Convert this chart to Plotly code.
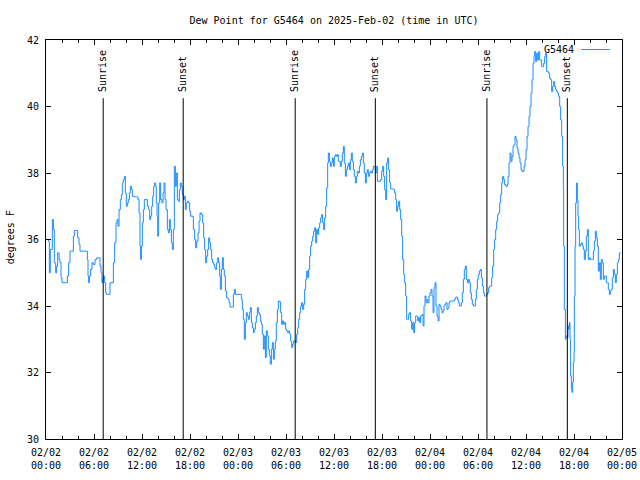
import pandas as pd
import plotly.graph_objects as go

# ---------------- data ----------------
START = "2025-02-02 00:00"
END = "2025-02-05 00:00"
STATION = "G5464"

# hours after START, dew point (degrees F)
HOURS_DAY1 = [0.05, 0.29, 0.42, 0.54, 0.67, 0.79, 0.92, 1.04, 1.21, 1.33,
              1.46, 1.63, 1.75, 1.88, 2.0, 2.25, 2.5, 2.67, 2.83, 3.0,
              3.21, 3.42, 3.54, 3.83, 3.96, 4.13, 4.25, 4.67, 5.0, 5.17,
              5.25, 5.33, 5.42, 5.58, 5.75, 5.92, 6.13, 6.33, 6.58, 6.75,
              6.88, 7.0, 7.08, 7.21, 7.33, 7.46, 7.58, 7.79, 8.0, 8.25,
              8.42, 8.58, 8.75, 8.88, 9.0, 9.13, 9.29, 9.42, 9.54, 9.67,
              9.79, 9.92, 10.04, 10.17, 10.29, 10.42, 10.54, 10.67, 10.79, 11.08,
              11.33, 11.5, 11.63, 11.75, 11.83, 11.92, 12.04, 12.17, 12.29, 12.5,
              12.67, 12.83, 12.96, 13.08, 13.21, 13.33, 13.46, 13.58, 13.71, 13.79,
              13.88, 13.96, 14.08, 14.21, 14.33, 14.5, 14.63, 14.75, 14.88, 15.0,
              15.17, 15.29, 15.42, 15.54, 15.67, 15.79, 15.92, 16.04, 16.17, 16.29,
              16.42, 16.54, 16.67, 16.79, 16.92, 17.04, 17.17, 17.29, 17.42, 17.54,
              17.67, 17.83, 17.96, 18.08, 18.25, 18.42, 18.58, 18.71, 18.83, 19.0,
              19.13, 19.25, 19.42, 19.58, 19.71, 19.83, 19.96, 20.08, 20.21, 20.33,
              20.46, 20.58, 20.71, 20.83, 20.96, 21.08, 21.21, 21.33, 21.46, 21.58,
              21.71, 21.79, 21.92, 22.04, 22.17, 22.29, 22.42, 22.58, 22.75, 22.88,
              23.0, 23.29]
DEW_DAY1 = [36.0, 35.95, 35.0, 35.7, 35.7, 36.6, 36.3, 35.3, 35.0, 35.2,
            35.6, 35.4, 35.3, 34.85, 34.7, 34.7, 34.7, 34.9, 35.3, 35.65,
            35.65, 36.1, 36.27, 36.27, 36.05, 35.85, 35.65, 35.65, 35.65, 35.4,
            34.9, 34.7, 34.9, 35.1, 35.3, 35.25, 35.4, 35.45, 35.45, 35.2,
            35.0, 34.7, 34.8, 34.9, 34.7, 34.4, 34.35, 34.35, 34.7, 34.7,
            35.3, 35.9, 36.5, 36.6, 36.4, 36.9, 37.2, 37.35, 37.7, 37.8,
            37.9, 37.4, 37.0, 37.1, 37.2, 37.4, 37.6, 37.5, 37.3, 37.28,
            37.28, 37.2, 36.8, 35.8, 35.4, 35.8, 36.5, 36.9, 37.2, 37.2,
            37.0, 36.9, 36.6, 36.7, 37.0, 37.3, 37.6, 37.7, 37.6, 37.1,
            36.7, 36.1, 37.1, 37.7, 37.2, 37.1, 37.4, 37.7, 37.2, 36.9,
            36.3, 36.2, 36.6, 36.3, 35.9, 35.7, 36.3, 38.2, 37.6, 38.0,
            37.2, 37.15, 37.5, 37.7, 37.6, 37.35, 37.2, 37.3, 36.9, 37.1,
            37.15, 37.1, 36.85, 36.7, 36.7, 36.3, 36.0, 35.75, 35.95, 36.2,
            36.55, 36.8, 36.75, 36.5, 36.05, 35.7, 35.3, 35.5, 35.7, 36.05,
            35.9, 35.7, 35.4, 35.3, 35.25, 35.15, 35.1, 35.3, 35.45, 35.3,
            34.9, 34.5, 35.1, 35.45, 35.1, 34.9, 34.45, 34.25, 34.2, 34.1,
            33.97, 33.97]

HOURS_DAY2 = [23.42, 23.54, 23.67, 23.96, 24.25, 24.42, 24.54, 24.67, 24.79, 24.92,
              25.04, 25.17, 25.29, 25.42, 25.54, 25.67, 25.79, 25.92, 26.04, 26.17,
              26.29, 26.42, 26.54, 26.67, 26.79, 26.92, 27.04, 27.17, 27.29, 27.42,
              27.54, 27.67, 27.79, 27.92, 28.04, 28.17, 28.29, 28.42, 28.54, 28.67,
              28.79, 28.92, 29.04, 29.21, 29.33, 29.46, 29.58, 29.71, 29.83, 29.96,
              30.08, 30.21, 30.33, 30.46, 30.58, 30.71, 30.83, 30.96, 31.08, 31.21,
              31.33, 31.46, 31.58, 31.71, 31.83, 31.96, 32.08, 32.21, 32.33, 32.46,
              32.58, 32.71, 32.83, 32.96, 33.08, 33.21, 33.33, 33.46, 33.58, 33.71,
              33.83, 33.96, 34.08, 34.21, 34.33, 34.46, 34.58, 34.71, 34.83, 34.96,
              35.08, 35.21, 35.29, 35.42, 35.54, 35.67, 35.79, 35.92, 36.04, 36.17,
              36.29, 36.42, 36.54, 36.67, 36.79, 36.92, 37.04, 37.17, 37.29, 37.42,
              37.54, 37.67, 37.79, 37.92, 38.04, 38.17, 38.29, 38.42, 38.54, 38.67,
              38.79, 38.92, 39.04, 39.17, 39.29, 39.42, 39.54, 39.67, 39.79, 39.92,
              40.04, 40.17, 40.29, 40.42, 40.54, 40.67, 40.79, 40.92, 41.04, 41.17,
              41.29, 41.42, 41.63, 41.83, 41.96, 42.08, 42.21, 42.33, 42.46, 42.58,
              42.71, 42.83, 42.96, 43.08, 43.33, 43.46, 43.58, 43.71, 43.83, 43.96,
              44.08, 44.21, 44.33, 44.46, 44.58, 44.71, 44.83, 44.96, 45.08, 45.21,
              45.33, 45.46, 45.58, 45.71, 45.83, 45.96, 46.08, 46.21, 46.33, 46.46,
              46.58, 46.71, 46.83]
DEW_DAY2 = [34.35, 34.5, 34.35, 34.35, 34.35, 34.2, 33.9, 33.6, 33.0, 33.5,
            33.8, 33.7, 33.6, 33.8, 33.95, 33.5, 33.35, 33.2, 33.3, 33.5,
            33.7, 33.95, 33.8, 33.75, 33.55, 33.45, 33.15, 32.7, 33.1, 32.45,
            33.25, 33.1, 32.7, 32.5, 32.25, 32.7, 32.9, 32.4, 32.7, 32.95,
            33.5, 33.9, 34.15, 34.12, 33.8, 33.45, 33.55, 33.45, 33.5, 33.3,
            33.25, 33.2, 33.25, 33.15, 32.95, 32.75, 32.85, 32.95, 32.95, 32.9,
            33.15, 33.35, 33.6, 33.8, 34.0, 34.1, 33.9, 34.05, 34.5, 34.8,
            35.05, 34.85, 35.1, 35.5, 35.8, 35.95, 36.1, 36.25, 36.35, 35.9,
            36.3, 36.15, 36.35, 36.5, 36.65, 36.75, 36.5, 36.3, 36.65, 37.0,
            37.55, 38.3, 38.6, 38.35, 38.2, 38.3, 38.45, 38.2, 38.5, 38.55,
            38.5, 38.55, 38.35, 38.35, 38.2, 38.35, 38.6, 38.8, 38.3, 37.9,
            38.1, 38.2, 38.3, 38.1, 38.4, 38.6, 38.35, 38.1, 37.9, 37.7,
            37.9, 38.05, 38.0, 38.2, 38.4, 38.5, 38.6, 38.3, 38.0, 37.7,
            38.0, 38.1, 37.9, 38.0, 38.05, 38.0, 38.1, 38.2, 38.2, 38.0,
            38.2, 37.75, 37.75, 37.8, 38.05, 38.2, 37.9, 37.5, 37.2, 38.3,
            38.45, 38.1, 37.7, 37.52, 37.52, 37.5, 37.4, 37.2, 36.85, 37.0,
            37.15, 36.9, 36.6, 36.1, 35.4, 34.95, 34.7, 34.3, 33.6, 33.6,
            33.75, 33.8, 33.55, 33.3, 33.5, 33.2, 33.5, 33.7, 33.7, 33.55,
            33.65, 33.5, 33.7]

HOURS_DAY3 = [47.0, 47.13, 47.25, 47.38, 47.5, 47.63, 47.75, 47.88, 48.0, 48.13,
              48.25, 48.38, 48.5, 48.63, 48.75, 48.88, 49.0, 49.13, 49.25, 49.38,
              49.5, 49.63, 49.75, 49.88, 50.0, 50.13, 50.25, 50.38, 50.5, 50.71,
              50.92, 51.04, 51.17, 51.29, 51.42, 51.54, 51.67, 51.79, 51.92, 52.04,
              52.17, 52.29, 52.42, 52.54, 52.67, 52.79, 52.92, 53.04, 53.17, 53.29,
              53.42, 53.54, 53.67, 53.79, 53.92, 54.04, 54.17, 54.29, 54.42, 54.54,
              54.67, 54.79, 54.92, 55.08, 55.21, 55.33, 55.46, 55.58, 55.71, 55.83,
              55.96, 56.08, 56.21, 56.33, 56.46, 56.58, 56.71, 56.83, 56.96, 57.08,
              57.21, 57.33, 57.5, 57.67, 57.75, 57.88, 58.0, 58.13, 58.25, 58.38,
              58.5, 58.63, 58.75, 58.88, 59.0, 59.13, 59.25, 59.38, 59.5, 59.63,
              59.75, 59.88, 60.0, 60.13, 60.25, 60.38, 60.5, 60.63, 60.75, 60.88,
              61.0, 61.08, 61.21, 61.33, 61.46, 61.58, 61.71, 61.83, 61.96, 62.08,
              62.21, 62.33, 62.46, 62.58, 62.71, 62.83, 62.96, 63.08, 63.21, 63.33,
              63.46, 63.58, 63.71, 63.83, 63.96, 64.08, 64.21, 64.33, 64.46, 64.58,
              64.67, 64.71, 64.79, 64.92, 65.0, 65.13, 65.25, 65.33, 65.42, 65.5,
              65.58, 65.67, 65.75, 65.83, 65.92, 66.0, 66.04, 66.13, 66.21, 66.33,
              66.42, 66.5, 66.58, 66.67, 66.79, 66.92, 67.04, 67.17, 67.29, 67.42,
              67.54, 67.67, 67.79, 67.92, 68.04, 68.17, 68.29, 68.42, 68.54, 68.67,
              68.79, 68.92, 69.04, 69.17, 69.29, 69.42, 69.54, 69.67, 69.79, 69.92,
              70.04, 70.17, 70.29, 70.42, 70.54, 70.67, 70.79, 70.92, 71.04, 71.17,
              71.29, 71.42, 71.54, 71.67, 71.83]
DEW_DAY3 = [33.75, 33.4, 34.0, 34.3, 34.1, 34.2, 34.1, 34.3, 34.4, 34.5,
            34.3, 33.8, 34.55, 34.7, 34.0, 33.7, 33.55, 34.05, 34.0, 33.9,
            33.8, 33.85, 34.0, 34.05, 34.1, 33.9, 33.95, 34.1, 34.15, 34.15,
            34.15, 34.2, 34.25, 34.27, 34.2, 34.1, 34.0, 34.0, 34.1, 34.4,
            34.8, 35.1, 35.2, 34.8, 34.7, 34.8, 34.7, 34.4, 34.2, 34.05,
            34.0, 34.0, 34.2, 34.5, 34.8, 34.95, 35.05, 35.1, 34.85, 34.6,
            34.4, 34.3, 34.3, 34.35, 34.4, 34.55, 34.6, 34.6, 34.85, 35.2,
            35.7, 36.0, 36.3, 36.55, 36.75, 36.8, 37.1, 37.35, 37.7, 37.9,
            37.8, 37.65, 37.6, 37.65, 37.9, 38.3, 38.6, 38.35, 38.5, 38.8,
            38.85, 39.1, 39.0, 38.75, 38.6, 38.45, 38.3, 38.1, 38.05, 38.05,
            38.2, 38.4, 38.7, 39.1, 39.4, 39.7, 40.0, 40.4, 40.8, 41.3,
            41.5, 41.65, 41.35, 41.6, 41.4, 41.65, 41.4, 41.4, 41.2, 41.2,
            41.3, 41.5, 41.6, 41.05, 41.05, 41.0, 40.85, 40.8, 40.45, 40.6,
            40.75, 40.6, 40.5, 40.45, 40.4, 40.3, 40.0, 39.6, 39.1, 38.2,
            37.5, 35.8, 33.9, 33.0, 33.1, 33.05, 33.4, 33.3, 33.5, 33.0,
            31.9, 31.5, 31.4, 31.7, 32.3, 32.6, 34.3, 35.8, 37.1, 37.7,
            37.2, 36.7, 36.3, 35.8, 35.85, 35.9, 35.8, 35.7, 35.4, 35.65,
            36.1, 36.3, 35.4, 35.45, 35.4, 35.4, 35.4, 35.65, 35.95, 36.25,
            36.05, 35.8, 35.05, 35.3, 34.8, 35.4, 35.3, 34.8, 34.9, 34.9,
            34.7, 34.7, 34.5, 34.35, 34.45, 34.5, 34.85, 35.1, 34.95, 34.7,
            34.95, 35.3, 35.4, 35.6, 35.6]

SUNRISE = ["2025-02-02 07:09", "2025-02-03 07:09", "2025-02-04 07:07"]
SUNSET = ["2025-02-02 17:09", "2025-02-03 17:10", "2025-02-04 17:10"]

TICK_HOURS = [0, 6, 12, 18, 24, 30, 36, 42, 48, 54, 60, 66, 72]
TICK_LABELS = ["02/02<br>00:00", "02/02<br>06:00", "02/02<br>12:00", "02/02<br>18:00",
               "02/03<br>00:00", "02/03<br>06:00", "02/03<br>12:00", "02/03<br>18:00",
               "02/04<br>00:00", "02/04<br>06:00", "02/04<br>12:00", "02/04<br>18:00",
               "02/05<br>00:00"]
Y_TICKS = [30, 32, 34, 36, 38, 40, 42]

# ---------------- build ----------------
hours = HOURS_DAY1 + HOURS_DAY2 + HOURS_DAY3
dew = DEW_DAY1 + DEW_DAY2 + DEW_DAY3
assert len(hours) == len(dew)

base = pd.Timestamp(START)
times = base + pd.to_timedelta(hours, unit="h")
tick_times = base + pd.to_timedelta(TICK_HOURS, unit="h")

FONT = "DejaVu Sans Mono"
LINE_COLOR = "#1a8cff"

fig = go.Figure()
fig.add_trace(go.Scatter(x=times, y=dew, mode="lines", name=STATION,
                         line=dict(color=LINE_COLOR, width=1, shape="hv"),
                         showlegend=False, hoverinfo="x+y"))

LINE_TOP = 40.25
LABEL_BOTTOM = 40.38
for label, events in (("Sunrise", SUNRISE), ("Sunset", SUNSET)):
    for t in events:
        fig.add_shape(type="line", xref="x", yref="y", x0=t, x1=t, y0=30, y1=LINE_TOP,
                      line=dict(color="black", width=1))
        fig.add_annotation(x=t, y=LABEL_BOTTOM, xref="x", yref="y", text=label,
                           textangle=-90, showarrow=False, xanchor="center",
                           yanchor="bottom", font=dict(family=FONT, size=10, color="black"))

# legend (text left, sample right, like gnuplot)
fig.add_annotation(x=0.920, y=0.976, xref="paper", yref="paper", text=STATION,
                   showarrow=False, xanchor="right", yanchor="middle",
                   font=dict(family=FONT, size=10, color="black"))
fig.add_shape(type="line", xref="paper", yref="paper", x0=0.929, x1=0.979,
              y0=0.976, y1=0.976, line=dict(color=LINE_COLOR, width=1))

# y-axis label
fig.add_annotation(x=-0.061, y=0.505, xref="paper", yref="paper", text="degrees F",
                   textangle=-90, showarrow=False, xanchor="center", yanchor="middle",
                   font=dict(family=FONT, size=10, color="black"))

fig.update_layout(
    width=640, height=480,
    margin=dict(l=46, r=18, t=40, b=41, autoexpand=False),
    paper_bgcolor="white", plot_bgcolor="white",
    font=dict(family=FONT, size=10, color="black"),
    title=dict(text=f"Dew Point for {STATION} on 2025-Feb-02 (time in UTC)",
               x=0.5, xref="paper", y=1 - 20 / 480, yref="container",
               xanchor="center", yanchor="middle",
               font=dict(family=FONT, size=10, color="black")),
    showlegend=False,
)
fig.update_xaxes(range=[START, END], showgrid=False, zeroline=False,
                 showline=True, linecolor="black", linewidth=1, mirror="allticks",
                 ticks="inside", ticklen=5, tickcolor="black", tickwidth=1,
                 tickmode="array", tickvals=tick_times, ticktext=TICK_LABELS,
                 ticklabelstandoff=4,
                 minor=dict(ticks="inside", ticklen=3, dtick=2 * 3600 * 1000,
                            tick0=START, tickcolor="black", showgrid=False))
fig.update_yaxes(range=[30, 42], showgrid=False, zeroline=False,
                 showline=True, linecolor="black", linewidth=1, mirror="allticks",
                 ticks="inside", ticklen=5, tickcolor="black", tickwidth=1,
                 tickmode="array", tickvals=Y_TICKS, ticklabelstandoff=4)

# remove the browser's default page margin so the 640x480 figure fills the window
PAGE_RESET = "document.body.style.margin='0';document.body.style.overflow='hidden';"

fig.write_html("out.html", post_script=PAGE_RESET,
               config={"displayModeBar": False, "staticPlot": True})
